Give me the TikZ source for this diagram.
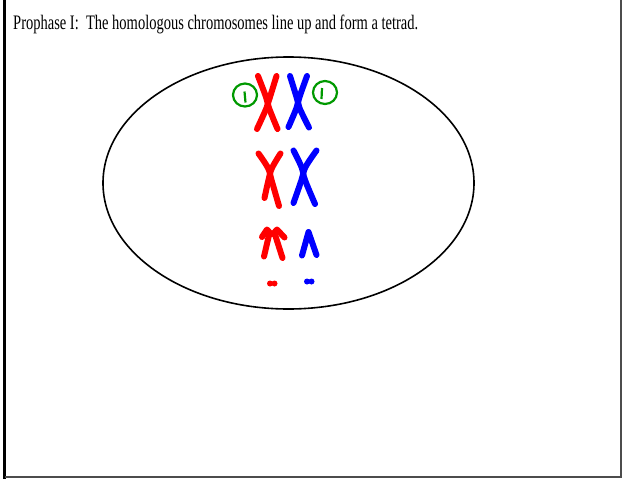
\documentclass[tikz,border=0pt]{standalone}
\usepackage{fontspec}
\setmainfont{Liberation Serif}
\begin{document}
\begin{tikzpicture}
  [x=1pt,y=-1pt,
   chrom/.style={line width=6pt,line cap=round,line join=round},
   tag/.style={draw=green!60!black,line width=2.2pt},
   cell/.style={draw,line width=1.6pt}]
  \useasboundingbox (0,0) rectangle (624,479);
  % slide frame
  \draw[line width=2.5pt] (4.5,0) -- (4.5,479);
  \draw[black!70,line width=2pt] (621,0) -- (621,477) -- (4.5,477);
  \node[anchor=base west,inner sep=0pt] (title) at (13,29)
    {\resizebox{405pt}{14.5pt}{Prophase I:\ \ The homologous chromosomes line up and form a tetrad.}};
  % cell
  \draw[cell] (288.5,183) ellipse [x radius=185.5,y radius=126];
  % tetrad, top pair
  \draw[chrom,red] plot[smooth,tension=0.6] coordinates {(258,76) (266,97) (269,108) (277.5,129)};
  \draw[chrom,red] plot[smooth,tension=0.6] coordinates {(276.5,76) (270,97) (266.5,108) (257,129)};
  \draw[chrom,blue] plot[smooth,tension=0.6] coordinates {(290,76) (296.5,97) (299.5,108) (309,127.5)};
  \draw[chrom,blue] plot[smooth,tension=0.6] coordinates {(307,76) (299.5,97) (296.5,108) (288.5,127)};
  % numbered tags
  \draw[tag] (245,95) circle [x radius=12,y radius=11.5];
  \draw[tag] (244.5,91.5) -- (245.5,102.5);
  \draw[tag] (325,92.5) circle [x radius=12,y radius=11.5];
  \draw[tag] (322,88) -- (321.5,99);
  % middle pair
  \draw[chrom,red] plot[smooth,tension=0.6] coordinates {(258.5,153.5) (268,168) (271.5,180) (279,206)};
  \draw[chrom,red] plot[smooth,tension=0.6] coordinates {(280.5,153.5) (272,168) (268.5,180) (264.5,198)};
  \draw[chrom,blue] plot[smooth,tension=0.6] coordinates {(293.5,150.5) (301.5,167) (305,180) (315,204)};
  \draw[chrom,blue] plot[smooth,tension=0.6] coordinates {(316.5,150.5) (305.5,167) (301.5,180) (293.5,203)};
  % bottom pair
  \draw[chrom,red] (262,237) -- (267,229.5) -- (271,234);
  \draw[chrom,red] (273,234) -- (277,229.5) -- (284.5,237.5);
  \draw[chrom,red] (269.5,233) -- (264,256.5);
  \draw[chrom,red] (274.5,233) -- (282.5,258);
  \draw[chrom,blue] (302,255.5) -- (308.5,232) -- (316.5,255);
  % centromere dots
  \fill[red] (270,283.5) circle [radius=3] (274.5,283.5) circle [radius=3];
  \fill[blue] (307,281.5) circle [radius=3] (311.5,281.5) circle [radius=3];
\end{tikzpicture}
\end{document}
